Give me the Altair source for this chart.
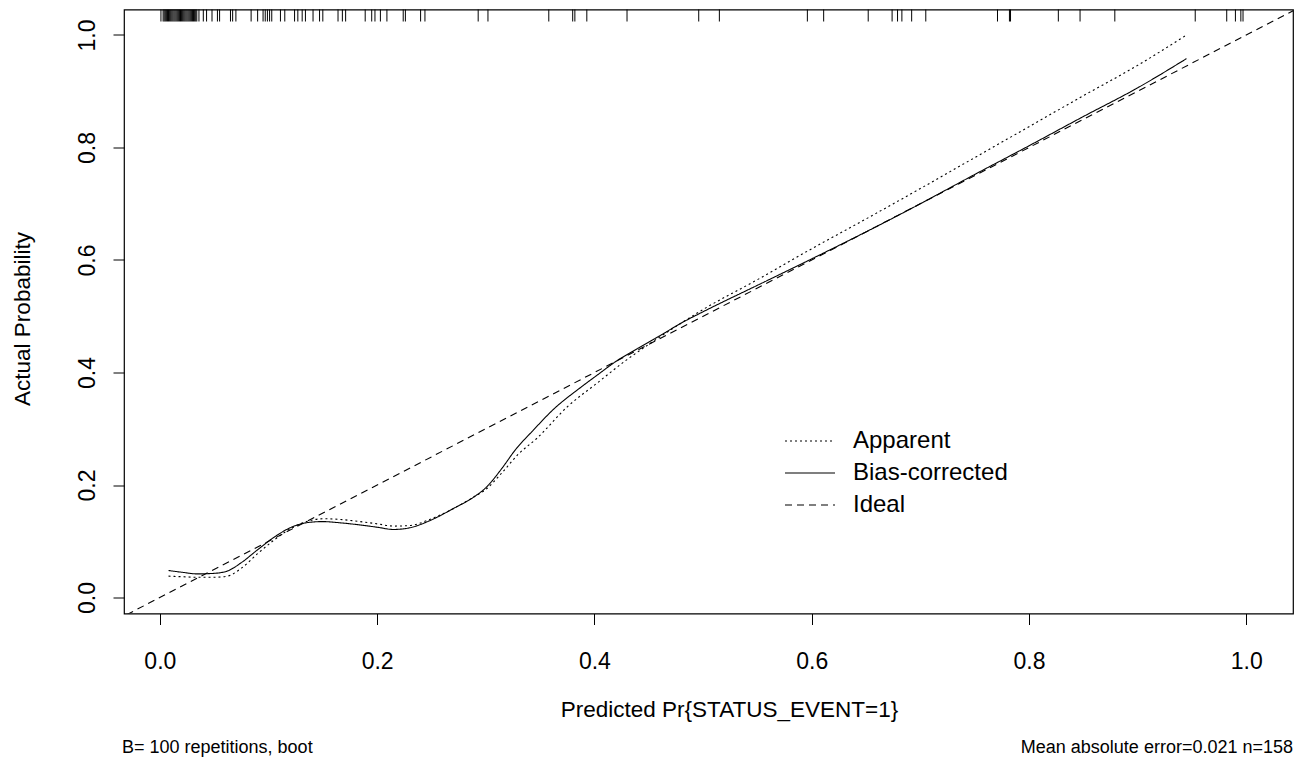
import altair as alt
import pandas as pd

# ---- data ----
rug_pred = [0.001, 0.003, 0.004, 0.005, 0.006, 0.007, 0.008, 0.009, 0.010, 0.011,
            0.012, 0.013, 0.014, 0.015, 0.016, 0.017, 0.018, 0.019, 0.020, 0.021,
            0.022, 0.023, 0.024, 0.025, 0.026, 0.027, 0.028, 0.029, 0.030, 0.031,
            0.032, 0.033, 0.034, 0.036, 0.040, 0.043, 0.048, 0.053, 0.055, 0.065,
            0.067, 0.070, 0.084, 0.090, 0.095, 0.097, 0.099, 0.101, 0.103, 0.111,
            0.115, 0.124, 0.127, 0.131, 0.134, 0.141, 0.147, 0.150, 0.164, 0.168,
            0.171, 0.189, 0.195, 0.198, 0.203, 0.209, 0.224, 0.226, 0.240, 0.244,
            0.293, 0.302, 0.358, 0.380, 0.382, 0.393, 0.430, 0.496, 0.515, 0.596,
            0.611, 0.652, 0.674, 0.679, 0.683, 0.692, 0.705, 0.771, 0.782, 0.783,
            0.827, 0.847, 0.879, 0.953, 0.982, 0.990, 0.995, 0.997]

app_x = [0.008, 0.02, 0.035, 0.05, 0.062, 0.075, 0.09, 0.105, 0.12, 0.135, 0.15,
         0.165, 0.18, 0.20, 0.215, 0.23, 0.25, 0.27, 0.29, 0.30, 0.315, 0.33,
         0.347, 0.375, 0.403, 0.43, 0.45, 0.48, 0.50, 0.55, 0.60, 0.65, 0.70,
         0.75, 0.80, 0.85, 0.90, 0.945]
app_y = [0.038, 0.037, 0.036, 0.036, 0.038, 0.052, 0.078, 0.102, 0.122, 0.135, 0.140,
         0.139, 0.136, 0.131, 0.127, 0.128, 0.140, 0.158, 0.180, 0.192, 0.222, 0.255,
         0.283, 0.339, 0.382, 0.423, 0.450, 0.488, 0.512, 0.565, 0.620, 0.673, 0.727,
         0.782, 0.837, 0.892, 0.946, 1.000]

bc_x = [0.008, 0.02, 0.035, 0.05, 0.062, 0.075, 0.09, 0.105, 0.12, 0.135, 0.15,
        0.165, 0.18, 0.20, 0.215, 0.23, 0.25, 0.27, 0.29, 0.30, 0.315, 0.327,
        0.344, 0.362, 0.387, 0.403, 0.42, 0.44, 0.46, 0.48, 0.50, 0.55, 0.60,
        0.65, 0.70, 0.75, 0.80, 0.85, 0.90, 0.945]
bc_y = [0.048, 0.045, 0.042, 0.043, 0.047, 0.062, 0.085, 0.107, 0.124, 0.133, 0.135,
        0.133, 0.130, 0.125, 0.121, 0.124, 0.138, 0.158, 0.180, 0.195, 0.230, 0.262,
        0.298, 0.334, 0.373, 0.396, 0.420, 0.443, 0.465, 0.488, 0.508, 0.555, 0.602,
        0.650, 0.700, 0.752, 0.803, 0.855, 0.906, 0.958]

ideal_x = [-0.05, 1.1]
ideal_y = [-0.05, 1.1]

series_names = ["Apparent", "Bias-corrected", "Ideal"]
series_dash = [[2, 3], [1, 0], [7, 5]]
x_ticks = [0.0, 0.2, 0.4, 0.6, 0.8, 1.0]
y_ticks = [0.0, 0.2, 0.4, 0.6, 0.8, 1.0]

x_title = "Predicted Pr{STATUS_EVENT=1}"
y_title = "Actual Probability"
sub_left = "B= 100 repetitions, boot"
sub_right = "Mean absolute error=0.021 n=158"

# ---- tables ----
lines_df = pd.concat([
    pd.DataFrame({"x": app_x, "y": app_y, "series": "Apparent", "k": range(len(app_x))}),
    pd.DataFrame({"x": bc_x, "y": bc_y, "series": "Bias-corrected", "k": range(len(bc_x))}),
    pd.DataFrame({"x": ideal_x, "y": ideal_y, "series": "Ideal", "k": range(len(ideal_x))}),
], ignore_index=True)
rug_df = pd.DataFrame({"p": rug_pred})
legend_df = pd.DataFrame({"series": series_names, "row": list(range(len(series_names)))})

FONT = "Liberation Sans"
W, H = 1169, 604
xs = alt.Scale(domain=[-0.033, 1.043], nice=False, zero=False)
ys = alt.Scale(domain=[-0.0284, 1.0453], nice=False, zero=False)
dash_scale = alt.Scale(domain=series_names, range=series_dash)

lines = alt.Chart(lines_df).mark_line(clip=True, color="black", strokeWidth=1.1,
                                      interpolate="monotone").encode(
    x=alt.X("x:Q", scale=xs,
            axis=alt.Axis(values=x_ticks, format=".1f", title=x_title,
                          titleY=96, titleBaseline="middle", titleX=605)),
    y=alt.Y("y:Q", scale=ys,
            axis=alt.Axis(values=y_ticks, format=".1f", title=y_title,
                          labelAngle=270, labelAlign="center", labelBaseline="bottom",
                          titleX=-102, titleY=309, titleBaseline="middle",
                          titleAngle=270)),
    strokeDash=alt.StrokeDash("series:N", scale=dash_scale, legend=None),
    order="k:Q",
)

rug = alt.Chart(rug_df).mark_rule(color="black", strokeWidth=1).encode(
    x=alt.X("p:Q", scale=xs),
    y=alt.value(0),
    y2=alt.value(12),
)

# legend (drawn as in R's legend(): sample line + label per series)
leg_y = alt.Y("row:Q", scale=alt.Scale(domain=[0, 2], range=[431.5, 495.5]), axis=None)
leg_lines = alt.Chart(legend_df).mark_rule(color="black", strokeWidth=1.1).encode(
    x=alt.value(661), x2=alt.value(711), y=leg_y,
    strokeDash=alt.StrokeDash("series:N", scale=dash_scale, legend=None),
)
leg_text = alt.Chart(legend_df).mark_text(
    align="left", baseline="middle", font=FONT, fontSize=24, color="black").encode(
    x=alt.value(729), y=leg_y, text="series:N")
legend = alt.layer(leg_lines, leg_text)

left_txt = alt.Chart(pd.DataFrame({"t": [sub_left]})).mark_text(
    align="left", baseline="middle", font=FONT, fontSize=18, color="black").encode(
    text="t:N", x=alt.value(-2), y=alt.value(738))
right_txt = alt.Chart(pd.DataFrame({"t": [sub_right]})).mark_text(
    align="right", baseline="middle", font=FONT, fontSize=18, color="black").encode(
    text="t:N", x=alt.value(W), y=alt.value(738))

main = alt.layer(rug, lines, left_txt, right_txt)

chart = alt.layer(main, legend).resolve_scale(y="independent").properties(
    width=W, height=H,
    padding={"left": 116, "top": 1.5, "right": 3, "bottom": 148},
    autosize=alt.AutoSizeParams(type="none"),
    background="white",
).configure_view(
    stroke="black", strokeWidth=1.2, fill="white"
).configure_axis(
    grid=False, domain=False, tickColor="black", tickSize=11, tickWidth=1,
    labelFont=FONT, labelFontSize=23, labelColor="black", labelPadding=14,
    titleFont=FONT, titleFontSize=22.5, titleColor="black", titleFontWeight="normal",
).configure_axisX(labelPadding=26)

chart.save("out.html", embed_options={"renderer": "svg", "actions": False})
